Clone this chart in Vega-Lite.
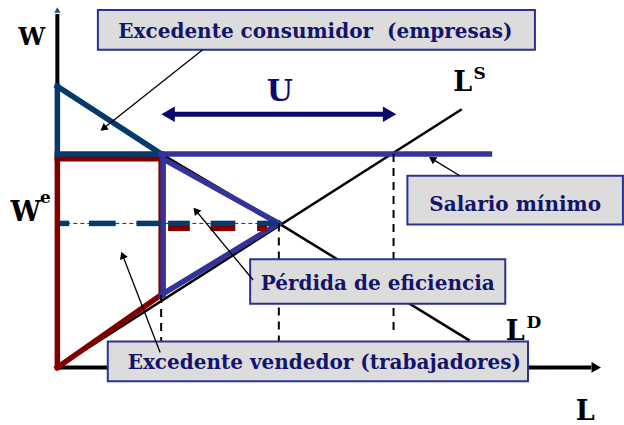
{
"$schema": "https://vega.github.io/schema/vega-lite/v6.json",
"width": 624, "height": 425, "padding": 0,
"autosize": {"type": "fit", "contains": "padding"},
"background": "white",
"config": {"view": {"stroke": null}},
"datasets": {
"segs": [
{"g":"axis","x":0,"y":0,"x2":0,"y2":356},
{"g":"axis","x":0,"y":0,"x2":540,"y2":0},
{"g":"curve","x":0,"y":0,"x2":409,"y2":260},
{"g":"curve","x":0,"y":283,"x2":105,"y2":215},
{"g":"curve","x":105,"y":215,"x2":224,"y2":145},
{"g":"curve","x":224,"y":145,"x2":417,"y2":27},
{"g":"ps","x":0,"y":210,"x2":0,"y2":0},
{"g":"ps","x":0,"y":210,"x2":105,"y2":210},
{"g":"ps","x":105,"y":210,"x2":105,"y2":73},
{"g":"ps","x":0,"y":0,"x2":105,"y2":73},
{"g":"cs","x":0,"y":283,"x2":105,"y2":215},
{"g":"cs","x":0,"y":283,"x2":0,"y2":215},
{"g":"cs","x":0,"y":215,"x2":105,"y2":215},
{"g":"dwl","x":105,"y":215,"x2":437,"y2":215},
{"g":"dwl","x":107,"y":210,"x2":107,"y2":73},
{"g":"dwl","x":107,"y":210,"x2":224,"y2":145},
{"g":"dwl","x":105,"y":73,"x2":224,"y2":145},
{"g":"wethin","x":2,"y":145,"x2":224,"y2":145},
{"g":"wedash","x":2,"y":145,"x2":12,"y2":145},
{"g":"wedash","x":32,"y":145,"x2":59,"y2":145},
{"g":"wedash","x":80,"y":145,"x2":105,"y2":145},
{"g":"wedash","x":112,"y":145,"x2":134,"y2":145},
{"g":"wedash","x":155,"y":145,"x2":180,"y2":145},
{"g":"wedash","x":202,"y":145,"x2":222,"y2":145},
{"g":"redash","x":112,"y":140,"x2":134,"y2":140},
{"g":"redash","x":155,"y":140,"x2":180,"y2":140},
{"g":"redash","x":202,"y":140,"x2":212,"y2":140},
{"g":"drop","x":105,"y":73,"x2":105,"y2":0},
{"g":"drop","x":224,"y":145,"x2":224,"y2":0},
{"g":"drop","x":340,"y":215,"x2":340,"y2":35},
{"g":"uline","x":118,"y":255,"x2":332,"y2":255},
{"g":"thin","x":147,"y":320,"x2":46.5,"y2":240.6},
{"g":"thin","x":407,"y":193,"x2":379,"y2":210},
{"g":"thin","x":198,"y":88,"x2":140,"y2":158},
{"g":"thin","x":104,"y":15,"x2":66,"y2":113}
],
"heads": [
{"g":"axisv","x":0,"y":360,"dir":0},
{"g":"axish","x":545,"y":0,"dir":90},
{"g":"u","x":112,"y":255,"dir":270},
{"g":"u","x":336,"y":255,"dir":90},
{"g":"thin","x":46.5,"y":240.6,"dir":232},
{"g":"thin","x":379,"y":210,"dir":302},
{"g":"thin","x":140,"y":158,"dir":320},
{"g":"thin","x":66,"y":113,"dir":339}
],
"boxes": [
{"x":41,"x2":483,"y":320,"y2":360},
{"x":354,"x2":572,"y":144,"y2":193},
{"x":195,"x2":453,"y":64,"y2":109},
{"x":51,"x2":476,"y":-14,"y2":26}
],
"labels": [
{"g":"box","t":"Excedente consumidor\u00a0 (empresas)","x":261,"y":332},
{"g":"box","t":"Salario mínimo","x":463,"y":158},
{"g":"box","t":"Pérdida de eficiencia","x":324,"y":78},
{"g":"box","t":"Excedente vendedor (trabajadores)","x":270,"y":-2},
{"g":"w","t":"W","x":-26,"y":325},
{"g":"big","t":"W","x":-32,"y":147},
{"g":"big","t":"L","x":410,"y":278},
{"g":"big","t":"L","x":463,"y":28},
{"g":"big","t":"L","x":534,"y":-53},
{"g":"sup","t":"e","x":-12,"y":166},
{"g":"sup","t":"S","x":427,"y":290},
{"g":"sup","t":"D","x":482,"y":40},
{"g":"u","t":"U","x":225,"y":268}
]
},
"encoding": {
"x": {"field":"x","type":"quantitative","scale":{"domain":[-58,566],"nice":false,"zero":false},"axis":null},
"y": {"field":"y","type":"quantitative","scale":{"domain":[-55,370],"nice":false,"zero":false},"axis":null}
},
"layer": [
{"data":{"name":"segs"},"transform":[{"filter":"datum.g=='axis'"}],"mark":{"type":"rule","color":"black","strokeWidth":4},"encoding":{"x2":{"field":"x2"},"y2":{"field":"y2"}}},
{"data":{"name":"segs"},"transform":[{"filter":"datum.g=='curve'"}],"mark":{"type":"rule","color":"black","strokeWidth":2.5},"encoding":{"x2":{"field":"x2"},"y2":{"field":"y2"}}},
{"data":{"name":"segs"},"transform":[{"filter":"datum.g=='ps'"}],"mark":{"type":"rule","color":"#800000","strokeWidth":5.5,"strokeCap":"square"},"encoding":{"x2":{"field":"x2"},"y2":{"field":"y2"}}},
{"data":{"name":"segs"},"transform":[{"filter":"datum.g=='cs'"}],"mark":{"type":"rule","color":"#063a6c","strokeWidth":5.5,"strokeCap":"square"},"encoding":{"x2":{"field":"x2"},"y2":{"field":"y2"}}},
{"data":{"name":"segs"},"transform":[{"filter":"datum.g=='dwl'"}],"mark":{"type":"rule","color":"#333399","strokeWidth":5.5,"strokeCap":"square"},"encoding":{"x2":{"field":"x2"},"y2":{"field":"y2"}}},
{"data":{"name":"segs"},"transform":[{"filter":"datum.g=='wethin'"}],"mark":{"type":"rule","color":"#063a6c","strokeWidth":1,"strokeDash":[4,3]},"encoding":{"x2":{"field":"x2"},"y2":{"field":"y2"}}},
{"data":{"name":"segs"},"transform":[{"filter":"datum.g=='wedash'"}],"mark":{"type":"rule","color":"#063a6c","strokeWidth":5.5},"encoding":{"x2":{"field":"x2"},"y2":{"field":"y2"}}},
{"data":{"name":"segs"},"transform":[{"filter":"datum.g=='redash'"}],"mark":{"type":"rule","color":"#800000","strokeWidth":5.5},"encoding":{"x2":{"field":"x2"},"y2":{"field":"y2"}}},
{"data":{"name":"segs"},"transform":[{"filter":"datum.g=='drop'"}],"mark":{"type":"rule","color":"black","strokeWidth":2,"strokeDash":[8,6]},"encoding":{"x2":{"field":"x2"},"y2":{"field":"y2"}}},
{"data":{"name":"segs"},"transform":[{"filter":"datum.g=='uline'"}],"mark":{"type":"rule","color":"#0a0a6e","strokeWidth":5},"encoding":{"x2":{"field":"x2"},"y2":{"field":"y2"}}},
{"data":{"name":"boxes"},"mark":{"type":"rect","fill":"#dcdcdc","stroke":"#2e3192","strokeWidth":2},"encoding":{"x2":{"field":"x2"},"y2":{"field":"y2"}}},
{"data":{"name":"segs"},"transform":[{"filter":"datum.g=='thin'"}],"mark":{"type":"rule","color":"black","strokeWidth":1.3},"encoding":{"x2":{"field":"x2"},"y2":{"field":"y2"}}},
{"data":{"name":"heads"},"transform":[{"filter":"datum.g=='thin'"}],"mark":{"type":"point","shape":"triangle-up","filled":true,"color":"black","size":70,"opacity":1},"encoding":{"angle":{"field":"dir","type":"quantitative","scale":null}}},
{"data":{"name":"heads"},"transform":[{"filter":"datum.g=='u'"}],"mark":{"type":"point","shape":"triangle-up","filled":true,"color":"#0a0a6e","size":240,"opacity":1},"encoding":{"angle":{"field":"dir","type":"quantitative","scale":null}}},
{"data":{"name":"heads"},"transform":[{"filter":"datum.g=='axish'"}],"mark":{"type":"point","shape":"triangle-up","filled":true,"color":"black","size":120,"opacity":1},"encoding":{"angle":{"field":"dir","type":"quantitative","scale":null}}},
{"data":{"name":"heads"},"transform":[{"filter":"datum.g=='axisv'"}],"mark":{"type":"point","shape":"triangle-up","filled":true,"color":"#1f4e79","size":40,"opacity":1},"encoding":{"angle":{"field":"dir","type":"quantitative","scale":null}}},
{"data":{"name":"labels"},"transform":[{"filter":"datum.g=='box'"}],"mark":{"type":"text","font":"DejaVu Serif","fontWeight":"bold","fontSize":20,"color":"#14146b","align":"center","baseline":"alphabetic"},"encoding":{"text":{"field":"t"}}},
{"data":{"name":"labels"},"transform":[{"filter":"datum.g=='w'"}],"mark":{"type":"text","font":"DejaVu Serif","fontWeight":"bold","fontSize":24,"color":"black","align":"center","baseline":"alphabetic"},"encoding":{"text":{"field":"t"}}},
{"data":{"name":"labels"},"transform":[{"filter":"datum.g=='big'"}],"mark":{"type":"text","font":"DejaVu Serif","fontWeight":"bold","fontSize":27,"color":"black","align":"center","baseline":"alphabetic"},"encoding":{"text":{"field":"t"}}},
{"data":{"name":"labels"},"transform":[{"filter":"datum.g=='sup'"}],"mark":{"type":"text","font":"DejaVu Serif","fontWeight":"bold","fontSize":17,"color":"black","align":"center","baseline":"alphabetic"},"encoding":{"text":{"field":"t"}}},
{"data":{"name":"labels"},"transform":[{"filter":"datum.g=='u'"}],"mark":{"type":"text","font":"DejaVu Serif","fontWeight":"bold","fontSize":30,"color":"#0a0a6e","align":"center","baseline":"alphabetic"},"encoding":{"text":{"field":"t"}}}
]
}
